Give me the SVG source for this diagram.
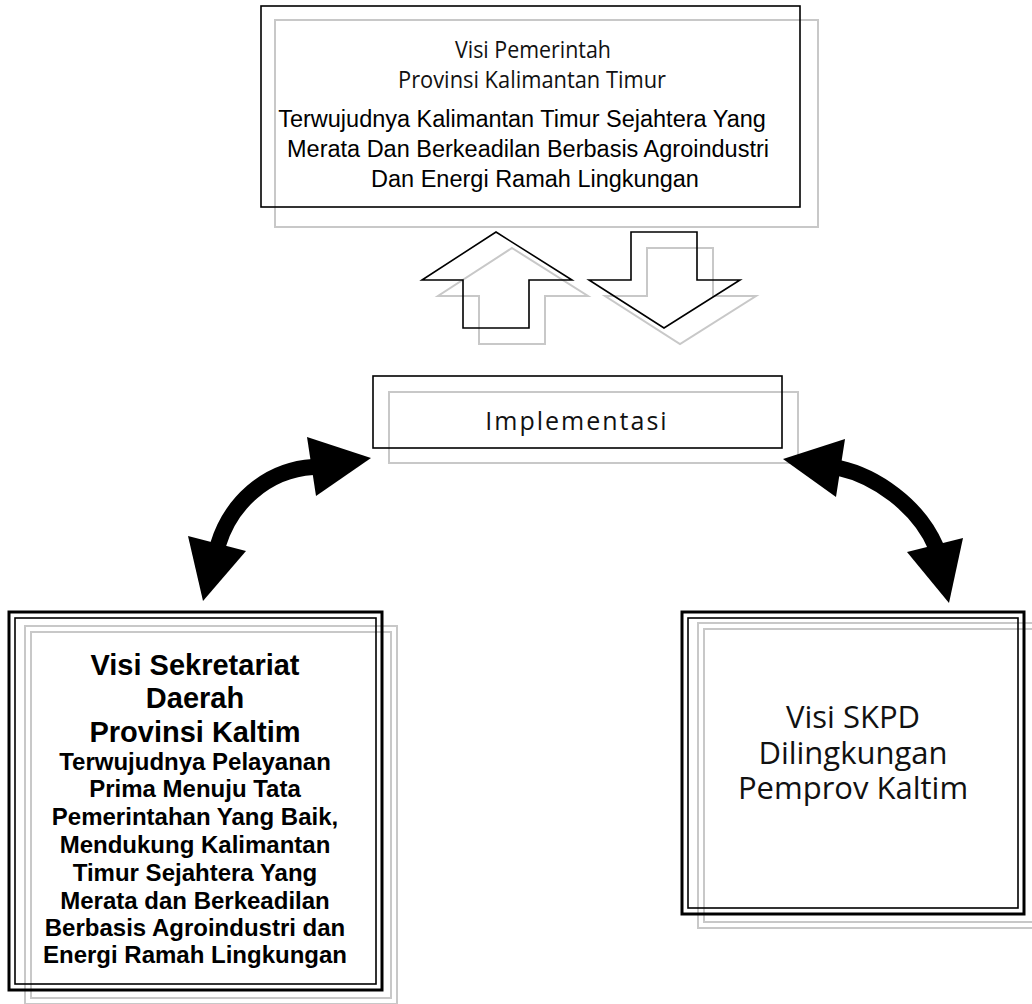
<svg xmlns="http://www.w3.org/2000/svg" width="1032" height="1004" viewBox="0 0 1032 1004">
<style>
.bg{fill:#fff}
.blk{fill:none;stroke:#000;stroke-width:1.6}
.blk3{fill:none;stroke:#000;stroke-width:3}
.gry{fill:none;stroke:#c8c8c8;stroke-width:2}
.hum{font-family:"Open Sans",Lato,"DejaVu Sans",sans-serif;fill:#111;text-anchor:middle}
.ari{font-family:"Liberation Sans",Arial,sans-serif;fill:#000;text-anchor:middle}
.bold{font-weight:bold}
.conn{fill:none;stroke:#000;stroke-width:16}
.head{fill:#000;stroke:none}
</style>
<rect class="bg" x="0" y="0" width="1032" height="1004"/>

<g id="node-visi-pemprov">
  <rect class="gry" x="275" y="20" width="543" height="207"/>
  <rect class="blk" x="261" y="6" width="539" height="201"/>
  <text class="hum" x="533" y="58" font-size="23.5" textLength="156" lengthAdjust="spacingAndGlyphs">Visi Pemerintah</text>
  <text class="hum" x="532" y="88" font-size="23.5" textLength="268" lengthAdjust="spacingAndGlyphs">Provinsi Kalimantan Timur</text>
  <text class="ari" x="522" y="127" font-size="23.5">Terwujudnya Kalimantan Timur Sejahtera Yang</text>
  <text class="ari" x="528" y="157" font-size="23.5">Merata Dan Berkeadilan Berbasis Agroindustri</text>
  <text class="ari" x="535" y="187" font-size="23.5">Dan Energi Ramah Lingkungan</text>
</g>

<g id="node-arrow-up">
  <polygon class="gry" points="512,248 588,296 545,296 545,344 479,344 479,296 438,296"/>
  <polygon class="blk" points="496,232 572,280 529,280 529,328 463,328 463,280 422,280"/>
</g>
<g id="node-arrow-down">
  <polygon class="gry" points="647,248 713,248 713,296 756,296 680,344 605,296 647,296"/>
  <polygon class="blk" points="631,232 697,232 697,280 740,280 664,328 589,280 631,280"/>
</g>

<g id="node-implementasi">
  <rect class="gry" x="389" y="392" width="409" height="71"/>
  <rect class="blk" x="373" y="376" width="409" height="72"/>
  <text class="hum" x="577" y="430" font-size="25" letter-spacing="2">Implementasi</text>
</g>

<g id="node-sekretariat">
  <rect class="gry" x="25" y="626" width="372" height="378"/>
  <rect class="gry" x="31" y="632" width="360" height="366"/>
  <rect class="blk3" x="9" y="612" width="373" height="378"/>
  <rect class="blk" x="15" y="618" width="361" height="366"/>
  <text class="ari bold" x="195" y="675" font-size="29">Visi Sekretariat</text>
  <text class="ari bold" x="195" y="708" font-size="29">Daerah</text>
  <text class="ari bold" x="195" y="742" font-size="29">Provinsi Kaltim</text>
  <text class="ari bold" x="195" y="770" font-size="24">Terwujudnya Pelayanan</text>
  <text class="ari bold" x="195" y="797" font-size="24">Prima Menuju Tata</text>
  <text class="ari bold" x="195" y="825" font-size="24">Pemerintahan Yang Baik,</text>
  <text class="ari bold" x="195" y="853" font-size="24">Mendukung Kalimantan</text>
  <text class="ari bold" x="195" y="881" font-size="24">Timur Sejahtera Yang</text>
  <text class="ari bold" x="195" y="909" font-size="24">Merata dan Berkeadilan</text>
  <text class="ari bold" x="195" y="936" font-size="24">Berbasis Agroindustri dan</text>
  <text class="ari bold" x="195" y="963" font-size="24">Energi Ramah Lingkungan</text>
</g>

<g id="node-skpd">
  <rect class="gry" x="698" y="623" width="342" height="305"/>
  <rect class="gry" x="704" y="629" width="340" height="293"/>
  <rect class="blk3" x="682" y="612" width="342" height="302"/>
  <rect class="blk" x="688" y="618" width="330" height="290"/>
  <text class="hum" x="853" y="728" font-size="31">Visi SKPD</text>
  <text class="hum" x="853" y="764" font-size="31">Dilingkungan</text>
  <text class="hum" x="853" y="799" font-size="31">Pemprov Kaltim</text>
</g>

<g id="connectors">
  <path class="conn" d="M313,467 C265,470 230,505 218,545"/>
  <polygon class="head" points="371,458 307,437 316,496"/>
  <polygon class="head" points="203,601 188,536 246,551"/>
  <path class="conn" d="M839,468 C875,476 918,505 936,547"/>
  <polygon class="head" points="783,459 845,439 836,497"/>
  <polygon class="head" points="949,603 907,552 963,538"/>
</g>
</svg>
